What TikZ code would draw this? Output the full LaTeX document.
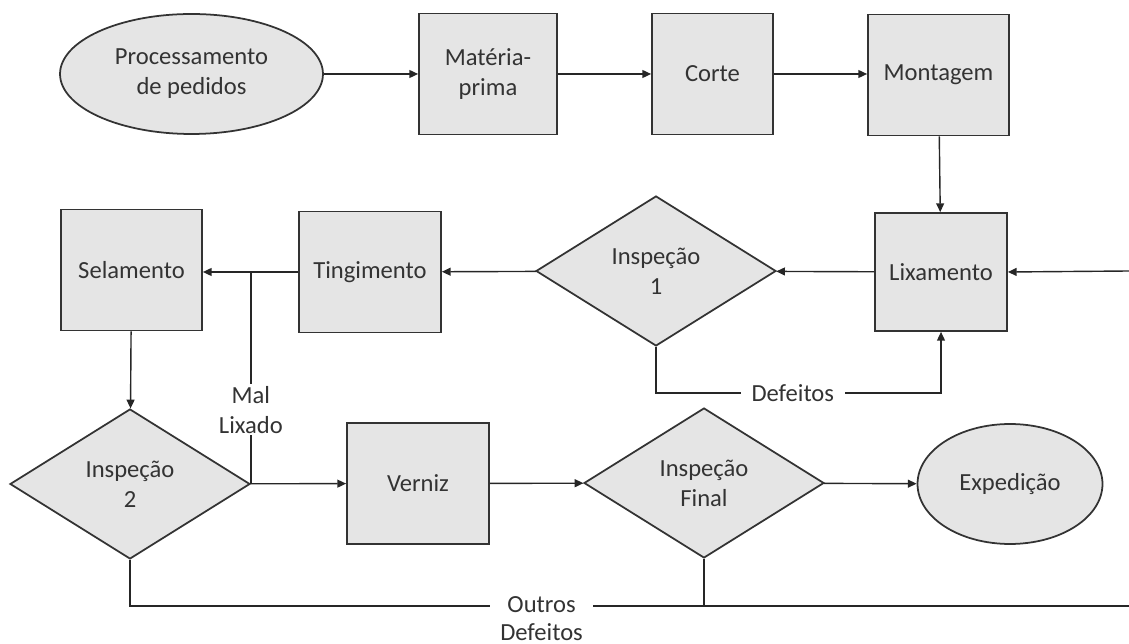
\documentclass[tikz,border=0pt]{standalone}
\usepackage{fontspec}
\setmainfont{Carlito}
\usetikzlibrary{shapes.geometric,arrows.meta}

\begin{document}
\begin{tikzpicture}[x=0.02cm, y=-0.02cm,
    font=\fontsize{14}{17}\selectfont, text=black!80,
    box/.style={draw=black!80, line width=1pt, fill=black!10, align=center, inner sep=2pt},
    proc/.style={box, rectangle, minimum width=2.82cm, minimum height=2.42cm},
    decision/.style={box, diamond, minimum width=4.8cm, minimum height=3cm, inner sep=0pt},
    terminal/.style={box, ellipse},
    flow/.style={draw=black!85, line width=0.8pt, -{Triangle[length=5pt,width=4.5pt]}},
    link/.style={draw=black!85, line width=0.8pt},
    tag/.style={fill=white, align=center, inner xsep=6pt, inner ysep=1pt}]
    \useasboundingbox (0,0) rectangle (1129,644);

    % Top row
    \node[terminal, minimum width=5.26cm, minimum height=2.4cm] (pedidos) at (191.5,74) {Processamento\\de pedidos};
    \node[proc, minimum width=2.76cm] (materia) at (488,74) {Matéria-\\prima};
    \node[proc, minimum width=2.42cm] (corte) at (712.5,74) {Corte};
    \node[proc] (montagem) at (938.5,75) {Montagem};

    % Middle row
    \node[proc, minimum width=2.64cm, minimum height=2.36cm] (lixamento) at (941,272) {Lixamento};
    \node[decision] (insp1) at (656,271) {Inspeção\\1};
    \node[proc, minimum width=2.84cm] (tingimento) at (370,272) {Tingimento};
    \node[proc] (selamento) at (131.5,270) {Selamento};

    % Bottom row
    \node[decision] (insp2) at (130,484) {Inspeção\\2};
    \node[proc, minimum width=2.84cm] (verniz) at (418,483.5) {Verniz};
    \node[decision] (inspfinal) at (704,483) {Inspeção\\Final};
    \node[terminal, minimum width=3.7cm, minimum height=2.4cm] (expedicao) at (1010,484) {Expedição};

    \coordinate (retorno) at (1129,271);
    \coordinate (fundo) at (1129,606);

    % Main flow
    \draw[flow] (pedidos) -- (materia);
    \draw[flow] (materia) -- (corte);
    \draw[flow] (corte.east) -- (corte.east -| montagem.west);
    \draw[flow] (montagem) -- (lixamento);
    \draw[flow] (retorno) -- (lixamento.east);
    \draw[flow] (lixamento) -- (insp1);
    \draw[flow] (insp1) -- (tingimento);
    \draw[flow] (tingimento.west) -- (tingimento.west -| selamento.east);
    \draw[flow] (selamento) -- (insp2);
    \draw[flow] (insp2) -- (verniz);
    \draw[flow] (verniz) -- (inspfinal);
    \draw[flow] (inspfinal) -- (expedicao);

    % Rework loops
    \draw[flow] (insp1.south) -- ++(0,46) -| (lixamento.south)
        node[tag, pos=0.24] {Defeitos};
    \draw[link] (insp2.east) -- (insp2.east |- tingimento.west)
        node[tag, pos=0.35] {Mal\\Lixado};
    \draw[link] (insp2.south) |- (fundo)
        node[tag, pos=0.706, yshift=-7pt, font=\fontsize{14}{16}\selectfont] {Outros\\Defeitos};
    \draw[link] (inspfinal.south) -- (inspfinal.south |- fundo);

\end{tikzpicture}
\end{document}
